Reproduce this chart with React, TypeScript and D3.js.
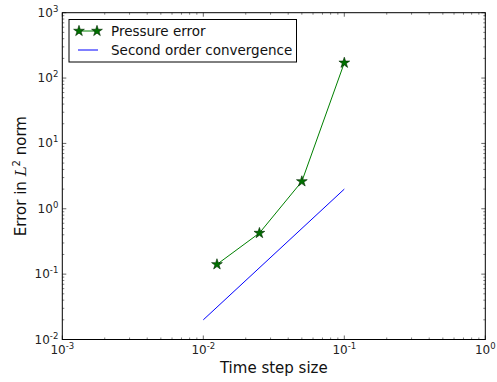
import React from "react";
import * as d3 from "d3";

const dtValues = [0.0125, 0.025, 0.05, 0.1];
const pressureError = [0.141, 0.425, 2.62, 171];
const refDt = [0.01, 0.1];
const refError = [0.02, 2.0];
const xDecades = [-3, -2, -1, 0];
const yDecades = [-2, -1, 0, 1, 2, 3];

const W = 497, H = 382;
const L = 62.3, R = 485.3, T = 12.7, B = 339.5;

export default function App() {
  const x = d3.scaleLog().domain([1e-3, 1]).range([L, R]);
  const y = d3.scaleLog().domain([1e-2, 1e3]).range([B, T]);
  const line = d3.line<[number, number]>().x(d => x(d[0])).y(d => y(d[1]));
  const pData: [number, number][] = dtValues.map((d, i) => [d, pressureError[i]]);
  const rData: [number, number][] = refDt.map((d, i) => [d, refError[i]]);
  const star = d3.symbol().type(d3.symbolStar).size(36)();

  const minor = (decs: number[]) => {
    const out: number[] = [];
    for (let i = 0; i < decs.length - 1; i++) for (let k = 2; k <= 9; k++) out.push(k * Math.pow(10, decs[i]));
    return out;
  };
  const xMinor = minor(xDecades);
  const yMinor = minor(yDecades);
  const font = "DejaVu Sans, sans-serif";
  const tickC = "#000";

  return (
    <svg width={W} height={H} style={{ position: "absolute", left: 0, top: 0, background: "#fff" }}>
      <rect x={0} y={0} width={W} height={H} fill="#fff" />
      {/* lines */}
      <path d={line(rData) || ""} fill="none" stroke="#0000ff" strokeWidth={1} />
      <path d={line(pData) || ""} fill="none" stroke="#008000" strokeWidth={1} />
      {pData.map((d, i) => (
        <path key={i} d={star || ""} transform={`translate(${x(d[0])},${y(d[1])})`} fill="#007000" stroke="#002800" strokeWidth={0.6} />
      ))}
      {/* frame */}
      <rect x={L} y={T} width={R - L} height={B - T} fill="none" stroke="#000" strokeWidth={1} />
      {/* x ticks */}
      {xDecades.map(e => {
        const px = x(Math.pow(10, e));
        return (
          <g key={"xm" + e}>
            <line x1={px} x2={px} y1={B} y2={B - 4} stroke={tickC} strokeWidth={0.6} />
            <line x1={px} x2={px} y1={T} y2={T + 4} stroke={tickC} strokeWidth={0.6} />
            <text x={px} y={354} fontFamily={font} fontSize={12} textAnchor="middle" fill="#222">
              10<tspan dy={-5} fontSize={8.5}>{e}</tspan>
            </text>
          </g>
        );
      })}
      {xMinor.map((v, i) => {
        const px = x(v);
        return (
          <g key={"xn" + i}>
            <line x1={px} x2={px} y1={B} y2={B - 2} stroke={tickC} strokeWidth={0.5} />
            <line x1={px} x2={px} y1={T} y2={T + 2} stroke={tickC} strokeWidth={0.5} />
          </g>
        );
      })}
      {/* y ticks */}
      {yDecades.map(e => {
        const py = y(Math.pow(10, e));
        return (
          <g key={"ym" + e}>
            <line x1={L} x2={L + 4} y1={py} y2={py} stroke={tickC} strokeWidth={0.6} />
            <line x1={R} x2={R - 4} y1={py} y2={py} stroke={tickC} strokeWidth={0.6} />
            <text x={L - 4} y={py + 4} fontFamily={font} fontSize={12} textAnchor="end" fill="#222">
              10<tspan dy={-5} fontSize={8.5}>{e}</tspan>
            </text>
          </g>
        );
      })}
      {yMinor.map((v, i) => {
        const py = y(v);
        return (
          <g key={"yn" + i}>
            <line x1={L} x2={L + 2} y1={py} y2={py} stroke={tickC} strokeWidth={0.5} />
            <line x1={R} x2={R - 2} y1={py} y2={py} stroke={tickC} strokeWidth={0.5} />
          </g>
        );
      })}
      {/* axis labels */}
      <text x={(L + R) / 2} y={373} fontFamily={font} fontSize={15} textAnchor="middle" fill="#111">Time step size</text>
      <text transform={`translate(26,${(T + B) / 2}) rotate(-90)`} fontFamily={font} fontSize={15} textAnchor="middle" fill="#111">
        Error in <tspan fontFamily="DejaVu Serif, serif" fontStyle="italic">L</tspan><tspan dy={-6} fontSize={10}>2</tspan><tspan dy={6}> norm</tspan>
      </text>
      {/* legend */}
      <rect x={69} y={19.5} width={227.5} height={42.5} fill="#fff" stroke="#000" strokeWidth={1} />
      <line x1={79} x2={97} y1={31} y2={31} stroke="#008000" strokeWidth={1} />
      <path d={star || ""} transform="translate(79,31)" fill="#007000" stroke="#002800" strokeWidth={0.6} />
      <path d={star || ""} transform="translate(97,31)" fill="#007000" stroke="#002800" strokeWidth={0.6} />
      <text x={111} y={36} fontFamily={font} fontSize={13.5} fill="#111">Pressure error</text>
      <line x1={78} x2={98} y1={50} y2={50} stroke="#0000ff" strokeWidth={1} />
      <text x={111} y={55} fontFamily={font} fontSize={13.5} fill="#111">Second order convergence</text>
    </svg>
  );
}
